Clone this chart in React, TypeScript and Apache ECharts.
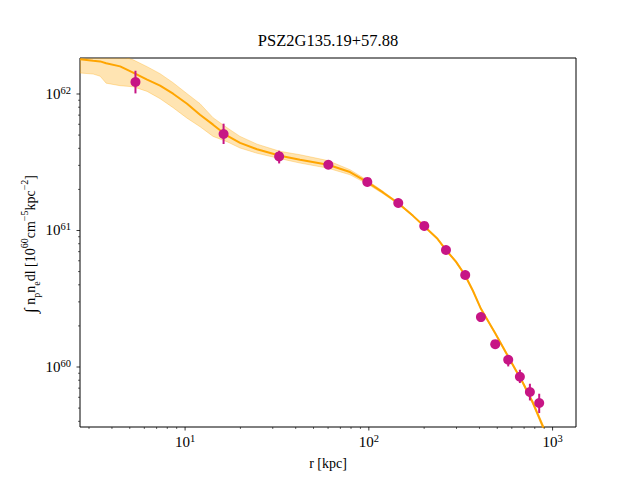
import React, { useEffect, useRef } from "react";
import * as echarts from "echarts";

// Measured emission profile (r in kpc, ∫ n_p n_e dl)
const radiusKpc = [5.37, 16.2, 32.5, 60.2, 98.1, 144.6, 200.3, 262.9, 334.6, 407.4, 487.4, 573.6, 663.8, 752.5, 845.6];
const emission = [1.224e62, 5.09e61, 3.49e61, 3.03e61, 2.27e61, 1.59e61, 1.08e61, 7.2e60, 4.72e60, 2.32e60, 1.47e60, 1.13e60, 8.49e59, 6.56e59, 5.45e59];
const emissionLo = [1.01e62, 4.3e61, 3.1e61, 2.92e61, 2.21e61, 1.55e61, 1.05e61, 7.0e60, 4.56e60, 2.15e60, 1.36e60, 1.01e60, 7.63e59, 5.69e59, 4.6e59];
const emissionHi = [1.48e62, 6.06e61, 3.84e61, 3.15e61, 2.33e61, 1.63e61, 1.11e61, 7.4e60, 4.88e60, 2.5e60, 1.558e60, 1.224e60, 9.55e59, 7.54e59, 6.37e59];

// Model profile with its uncertainty envelope
const modelR = [2.685, 3.16, 3.45, 3.719, 4.431, 5.215, 6.215, 7.311, 8.604, 10.25, 12.06, 14.2, 16.92, 19.91, 24.64, 32.86, 42.22, 59.96, 78.98, 97.7, 119.4, 144.1, 173.9, 199.5, 234.8, 262.8, 297.9, 333.4, 368.5, 407.4, 485.6, 585.9, 689.4, 781.4, 885.6, 1096];
const modelMid = [1.8e62, 1.754e62, 1.733e62, 1.681e62, 1.593e62, 1.432e62, 1.273e62, 1.15e62, 1.005e62, 8.49e61, 7.05e61, 5.96e61, 4.95e61, 4.38e61, 3.94e61, 3.53e61, 3.3e61, 3.03e61, 2.68e61, 2.27e61, 1.9e61, 1.59e61, 1.28e61, 1.08e61, 8.78e60, 7.2e60, 5.91e60, 4.72e60, 3.62e60, 2.67e60, 1.78e60, 1.13e60, 7.67e59, 5.47e59, 3.67e59, 2.02e59];
const modelLo = [1.425e62, 1.4e62, 1.35e62, 1.2e62, 1.15e62, 1.13e62, 1.045e62, 9.24e61, 7.94e61, 6.65e61, 5.76e61, 4.89e61, 4.47e61, 4.02e61, 3.68e61, 3.36e61, 3.12e61, 2.86e61, 2.56e61, 2.2e61, 1.86e61, 1.56e61, 1.27e61, 1.066e61, 8.68e60, 7.11e60, 5.81e60, 4.64e60, 3.57e60, 2.63e60, 1.75e60, 1.11e60, 7.48e59, 5.29e59, 3.53e59, 1.89e59];
const modelHi = [2.11e62, 2.04e62, 2.01e62, 1.97e62, 1.91e62, 1.78e62, 1.585e62, 1.408e62, 1.21e62, 1.005e62, 8.49e61, 6.7e61, 5.66e61, 4.89e61, 4.29e61, 3.8e61, 3.59e61, 3.25e61, 2.79e61, 2.34e61, 1.94e61, 1.61e61, 1.3e61, 1.09e61, 8.89e60, 7.3e60, 6.01e60, 4.8e60, 3.67e60, 2.72e60, 1.81e60, 1.15e60, 7.8e59, 5.62e59, 3.81e59, 2.17e59];

// Axis ranges and tick positions
const xRange = [2.68, 1341];
const yRange = [3.635e59, 1.835e62];
const xMajorTicks = [10, 100, 1000];
const xMinorTicks = [3, 4, 5, 6, 7, 8, 9, 20, 30, 40, 50, 60, 70, 80, 90, 200, 300, 400, 500, 600, 700, 800, 900];
const yMajorTicks = [1e60, 1e61, 1e62];
const yMinorTicks = [4e59, 5e59, 6e59, 7e59, 8e59, 9e59, 2e60, 3e60, 4e60, 5e60, 6e60, 7e60, 8e60, 9e60, 2e61, 3e61, 4e61, 5e61, 6e61, 7e61, 8e61, 9e61];

const FAMILY = "Liberation Serif";
const POINT_COLOR = "#C71585";
const MODEL_COLOR = "#FFA500";

const decadeLabel = (v: number) => {
  const e = Math.log10(v);
  const r = Math.round(e);
  if (Math.abs(e - r) > 1e-6) return "";
  return `{b|10}{s|${r}}`;
};

const tickRich = {
  b: { fontSize: 15, fontFamily: FAMILY, color: "#000", lineHeight: 18 },
  s: { fontSize: 10.5, fontFamily: FAMILY, color: "#000", lineHeight: 9, verticalAlign: "top" },
};

function xTickSeries(values: number[], len: number, width: number) {
  return {
    type: "custom",
    silent: true,
    clip: false,
    z: 10,
    data: values.map((v) => [v, yRange[0]]),
    renderItem: (_p: any, api: any) => {
      const pt = api.coord([api.value(0), yRange[0]]);
      return {
        type: "line",
        shape: { x1: pt[0], y1: pt[1], x2: pt[0], y2: pt[1] + len },
        style: { stroke: "#000", lineWidth: width },
      };
    },
  };
}

function yTickSeries(values: number[], len: number, width: number) {
  return {
    type: "custom",
    silent: true,
    clip: false,
    z: 10,
    data: values.map((v) => [xRange[0], v]),
    renderItem: (_p: any, api: any) => {
      const pt = api.coord([xRange[0], api.value(1)]);
      return {
        type: "line",
        shape: { x1: pt[0] - len, y1: pt[1], x2: pt[0], y2: pt[1] },
        style: { stroke: "#000", lineWidth: width },
      };
    },
  };
}

export default function App() {
  const ref = useRef<HTMLDivElement>(null);

  useEffect(() => {
    if (!ref.current) return;
    const chart = echarts.init(ref.current, null, { renderer: "svg" });

    const option: any = {
      animation: false,
      backgroundColor: "#fff",
      textStyle: { fontFamily: FAMILY },
      title: {
        text: "PSZ2G135.19+57.88",
        left: 328,
        top: 32,
        textAlign: "center",
        padding: 0,
        textStyle: { fontFamily: FAMILY, fontSize: 16.5, fontWeight: "normal", color: "#000" },
      },
      grid: {
        left: 80,
        right: 64,
        top: 58,
        bottom: 53,
        show: true,
        borderColor: "#000",
        borderWidth: 1,
        backgroundColor: "transparent",
      },
      xAxis: {
        type: "log",
        logBase: 10,
        min: xRange[0],
        max: xRange[1],
        name: "r [kpc]",
        nameLocation: "middle",
        nameGap: 29,
        nameTextStyle: { fontFamily: FAMILY, fontSize: 14, color: "#000" },
        axisLine: { show: false },
        axisTick: { show: false },
        splitLine: { show: false },
        minorTick: { show: false },
        axisLabel: { formatter: decadeLabel, rich: tickRich, margin: 6 },
      },
      yAxis: {
        type: "log",
        logBase: 10,
        min: yRange[0],
        max: yRange[1],
        axisLine: { show: false },
        axisTick: { show: false },
        splitLine: { show: false },
        minorTick: { show: false },
        axisLabel: { formatter: decadeLabel, rich: tickRich, margin: 9 },
      },
      graphic: [
        {
          type: "text",
          x: 30,
          y: 244,
          rotation: Math.PI / 2,
          style: {
            text: "{i|∫}{n| n}{sub|p}{n|n}{sub|e}{n|dl [10}{sup|60}{n|cm}{sup|−5}{n|kpc}{sup|−2}{n|]}",
            textAlign: "center",
            textVerticalAlign: "middle",
            fill: "#000",
            rich: {
              i: { fontSize: 17, fontFamily: FAMILY, lineHeight: 22 },
              n: { fontSize: 14, fontFamily: FAMILY, lineHeight: 22 },
              sub: { fontSize: 10, fontFamily: FAMILY, lineHeight: 12, verticalAlign: "bottom" },
              sup: { fontSize: 10, fontFamily: FAMILY, lineHeight: 12, verticalAlign: "top" },
            },
          },
        },
      ],
      series: [
        {
          type: "custom",
          name: "model band",
          silent: true,
          clip: true,
          z: 1,
          data: [[modelR[0], modelMid[0]]],
          renderItem: (_p: any, api: any) => {
            const upper = modelR.map((r, i) => api.coord([r, modelHi[i]]));
            const lower = modelR.map((r, i) => api.coord([r, modelLo[i]])).reverse();
            return {
              type: "polygon",
              shape: { points: upper.concat(lower) },
              style: { fill: "rgba(255,165,0,0.3)", stroke: "rgba(255,165,0,0.3)", lineWidth: 1 },
            };
          },
        },
        {
          type: "line",
          name: "model",
          data: modelR.map((r, i) => [r, modelMid[i]]),
          showSymbol: false,
          smooth: false,
          clip: true,
          z: 2,
          lineStyle: { color: MODEL_COLOR, width: 2 },
          itemStyle: { color: MODEL_COLOR },
        },
        {
          type: "custom",
          name: "errors",
          silent: true,
          z: 3,
          data: radiusKpc.map((r, i) => [r, emissionLo[i], emissionHi[i]]),
          encode: { x: 0, y: [1, 2] },
          renderItem: (_p: any, api: any) => {
            const lo = api.coord([api.value(0), api.value(1)]);
            const hi = api.coord([api.value(0), api.value(2)]);
            return {
              type: "line",
              shape: { x1: lo[0], y1: lo[1], x2: hi[0], y2: hi[1] },
              style: { stroke: POINT_COLOR, lineWidth: 2 },
            };
          },
        },
        {
          type: "scatter",
          name: "data",
          z: 4,
          symbolSize: 10,
          data: radiusKpc.map((r, i) => [r, emission[i]]),
          itemStyle: { color: POINT_COLOR, opacity: 1 },
        },
        xTickSeries(xMajorTicks, 3.5, 0.8),
        xTickSeries(xMinorTicks, 2, 0.6),
        yTickSeries(yMajorTicks, 3.5, 0.8),
        yTickSeries(yMinorTicks, 2, 0.6),
      ],
    };

    chart.setOption(option);
    return () => chart.dispose();
  }, []);

  return (
    <div
      ref={ref}
      style={{ position: "absolute", left: 0, top: 0, width: 640, height: 480 }}
    />
  );
}
